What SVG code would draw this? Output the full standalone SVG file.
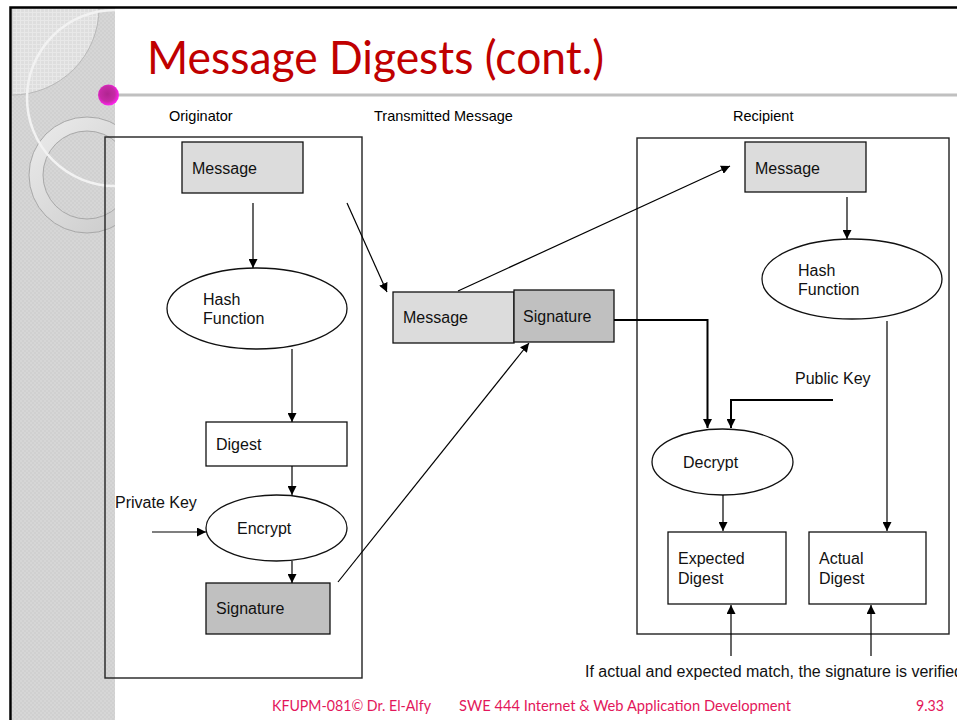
<svg xmlns="http://www.w3.org/2000/svg" width="957" height="720" viewBox="0 0 957 720">
<style>
.lbl{font-family:"Liberation Sans",Arial,sans-serif;font-size:14.5px;fill:#000}
.txt{font-family:"Liberation Sans",Arial,sans-serif;font-size:16px;fill:#111}
.box{stroke:#111;stroke-width:1.3}
.frame{fill:none;stroke:#222;stroke-width:1.4}
.conn{fill:none;stroke:#000;stroke-width:1.2}
.thick{fill:none;stroke:#000;stroke-width:2}
.foot{font-family:Lato,"Open Sans",sans-serif;font-size:15px;fill:#e3175b}
</style>
<defs>
<marker id="ah" viewBox="0 0 10 10" refX="10" refY="5" markerWidth="9" markerHeight="9" markerUnits="userSpaceOnUse" orient="auto">
<path d="M0,0 L10,5 L0,10 z" fill="#000"/>
</marker>
<pattern id="tex" width="4" height="4" patternUnits="userSpaceOnUse">
<rect width="4" height="4" fill="#d0d0d0"/>
<rect width="2" height="2" fill="#d6d6d6"/>
<rect x="2" y="2" width="2" height="2" fill="#d6d6d6"/>
</pattern>
<pattern id="tex2" width="4" height="4" patternUnits="userSpaceOnUse">
<rect width="4" height="4" fill="#dedede"/>
<rect width="4" height="1" fill="#e8e8e8"/>
<rect width="1" height="4" fill="#e8e8e8"/>
</pattern>
<linearGradient id="ring" x1="0" y1="0" x2="1" y2="1">
<stop offset="0" stop-color="#ececec"/>
<stop offset="1" stop-color="#c8c8c8"/>
</linearGradient>
<radialGradient id="dot" cx="0.45" cy="0.45" r="0.55">
<stop offset="0" stop-color="#b02590"/>
<stop offset="0.65" stop-color="#c62aa6"/>
<stop offset="1" stop-color="#ff22ee"/>
</radialGradient>
<clipPath id="side"><rect x="12" y="8" width="103" height="712"/></clipPath>
</defs>

<!-- background -->
<rect x="0" y="0" width="957" height="720" fill="#fff"/>
<g id="sidebar" clip-path="url(#side)">
<rect x="12" y="8" width="103" height="712" fill="url(#tex)"/>
<path d="M12,8 L99,8 A87,87 0 0 1 12,95 Z" fill="url(#tex2)" stroke="#b8b8b8" stroke-width="1"/>
<path fill-rule="evenodd" d="M29,175 a58,58 0 1 0 116,0 a58,58 0 1 0 -116,0 Z M43,175 a44,44 0 1 0 88,0 a44,44 0 1 0 -88,0 Z" fill="url(#ring)" stroke="#a8a8a8" stroke-width="1"/>
<circle cx="115" cy="98" r="88" fill="none" stroke="#f2f2f2" stroke-width="2.5"/>
</g>
<rect x="10.5" y="7.5" width="960" height="720" fill="none" stroke="#000" stroke-width="2.5"/>

<!-- title -->
<g id="title">
<text x="147" y="74" font-family="Lato,'Open Sans',sans-serif" font-size="47" fill="#c00000" textLength="457" lengthAdjust="spacingAndGlyphs">Message Digests (cont.)</text>
<line x1="116" y1="95" x2="957" y2="95" stroke="#c0c0c0" stroke-width="3"/>
<circle cx="108.5" cy="95" r="10.5" fill="url(#dot)"/>
</g>

<!-- section labels -->
<text class="lbl" x="169" y="121">Originator</text>
<text class="lbl" x="374" y="121">Transmitted Message</text>
<text class="lbl" x="733" y="121">Recipient</text>

<!-- frames -->
<rect id="originator" class="frame" x="105" y="137" width="257" height="541"/>
<rect id="recipient" class="frame" x="637" y="138" width="312" height="496"/>

<!-- originator nodes -->
<g id="o-message"><rect class="box" x="182" y="142" width="121" height="51" fill="#dcdcdc"/><text class="txt" x="192" y="174">Message</text></g>
<g id="o-hash"><ellipse class="box" cx="257" cy="308.5" rx="90" ry="40.5" fill="#fff"/><text class="txt" x="203" y="305">Hash</text><text class="txt" x="203" y="324">Function</text></g>
<g id="o-digest"><rect class="box" x="206" y="422" width="141" height="44" fill="#fff"/><text class="txt" x="216" y="450">Digest</text></g>
<g id="o-encrypt"><ellipse class="box" cx="276.5" cy="528" rx="70.5" ry="33" fill="#fff"/><text class="txt" x="237" y="534">Encrypt</text></g>
<g id="o-signature"><rect class="box" x="206" y="583" width="124" height="51" fill="#c0c0c0"/><text class="txt" x="216" y="614">Signature</text></g>
<g id="private-key"><text class="txt" x="115" y="508">Private Key</text></g>

<!-- transmitted -->
<g id="t-message"><rect class="box" x="393" y="292" width="121" height="51" fill="#dcdcdc"/><text class="txt" x="403" y="323">Message</text></g>
<g id="t-signature"><rect class="box" x="514" y="290" width="100" height="52" fill="#c0c0c0"/><text class="txt" x="523" y="322">Signature</text></g>

<!-- recipient nodes -->
<g id="r-message"><rect class="box" x="745" y="142" width="121" height="50" fill="#dcdcdc"/><text class="txt" x="755" y="174">Message</text></g>
<g id="r-hash"><ellipse class="box" cx="852" cy="279" rx="90" ry="40" fill="#fff"/><text class="txt" x="798" y="276">Hash</text><text class="txt" x="798" y="295">Function</text></g>
<g id="public-key"><text class="txt" x="795" y="384">Public Key</text></g>
<g id="r-decrypt"><ellipse class="box" cx="722.5" cy="462" rx="70.5" ry="33" fill="#fff"/><text class="txt" x="683" y="468">Decrypt</text></g>
<g id="r-expected"><rect class="box" x="668" y="532" width="118" height="72" fill="#fff"/><text class="txt" x="678" y="564">Expected</text><text class="txt" x="678" y="584">Digest</text></g>
<g id="r-actual"><rect class="box" x="809" y="532" width="117" height="72" fill="#fff"/><text class="txt" x="819" y="564">Actual</text><text class="txt" x="819" y="584">Digest</text></g>

<text id="note" class="txt" x="585" y="677">If actual and expected match, the signature is verified</text>

<!-- connectors -->
<g id="connectors">
<line class="conn" x1="253" y1="203" x2="253" y2="268" marker-end="url(#ah)"/>
<line class="conn" x1="292" y1="349" x2="292" y2="422" marker-end="url(#ah)"/>
<line class="conn" x1="292" y1="466" x2="292" y2="495" marker-end="url(#ah)"/>
<line class="conn" x1="152" y1="532" x2="206" y2="532" marker-end="url(#ah)"/>
<line class="conn" x1="292" y1="561" x2="292" y2="583" marker-end="url(#ah)"/>
<line class="conn" x1="347" y1="203" x2="387" y2="292" marker-end="url(#ah)"/>
<line class="conn" x1="338" y1="582" x2="529" y2="343" marker-end="url(#ah)"/>
<line class="conn" x1="458" y1="291" x2="730" y2="166" marker-end="url(#ah)"/>
<polyline class="thick" points="614,320 707.5,320 707.5,428" marker-end="url(#ah)"/>
<polyline class="thick" points="833,400 731,400 731,428" marker-end="url(#ah)"/>
<line class="conn" x1="847" y1="197" x2="847" y2="239" marker-end="url(#ah)"/>
<line class="conn" x1="887" y1="321" x2="887" y2="531" marker-end="url(#ah)"/>
<line class="conn" x1="723" y1="495" x2="723" y2="531" marker-end="url(#ah)"/>
<line class="conn" x1="731" y1="656" x2="731" y2="605" marker-end="url(#ah)"/>
<line class="conn" x1="871" y1="656" x2="871" y2="605" marker-end="url(#ah)"/>
</g>

<!-- footer -->
<g id="footer">
<text class="foot" x="272" y="711" textLength="159" lengthAdjust="spacingAndGlyphs">KFUPM-081© Dr. El-Alfy</text>
<text class="foot" x="459" y="711" textLength="332" lengthAdjust="spacingAndGlyphs">SWE 444 Internet &amp; Web Application Development</text>
<text class="foot" x="916" y="711" textLength="28" lengthAdjust="spacingAndGlyphs">9.33</text>
</g>
</svg>
